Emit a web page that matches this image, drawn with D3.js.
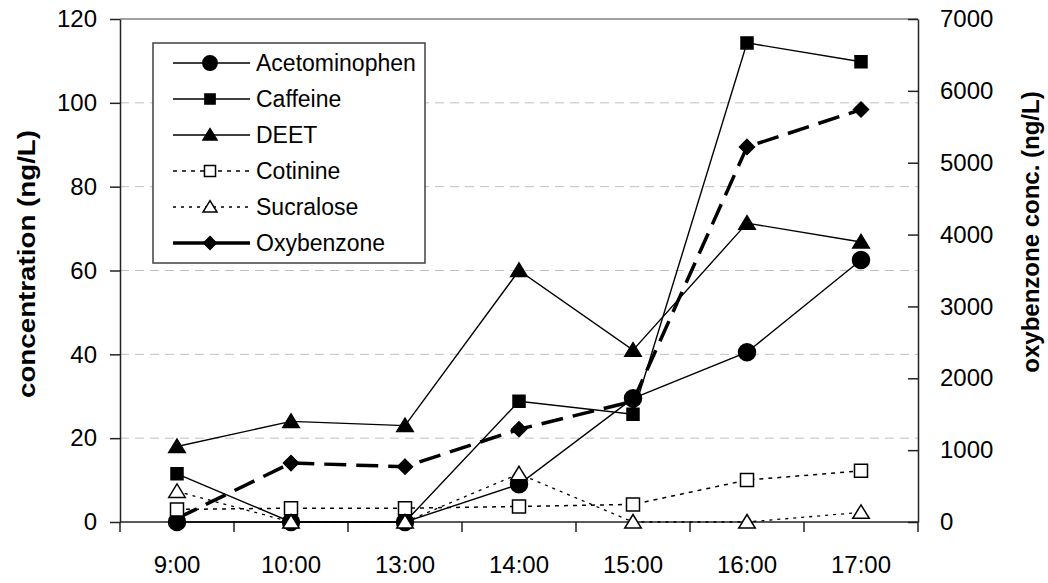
<!DOCTYPE html>
<html lang="en">
<head>
<meta charset="UTF-8">
<title>concentration by time</title>
<script src="https://d3js.org/d3.v7.min.js"></script>
<style>
    body { margin: 0; background: #fff; }
    text { font-family: "Liberation Sans", Arial, sans-serif; fill: #000; }
    .tick-label { font-size: 24px; }
    .axis-title { font-size: 24px; font-weight: bold; }
    .legend-text { font-size: 23px; }
</style>
</head>
<body>
<div id="chart"></div>
<script>
    // data
    var times = ["9:00", "10:00", "13:00", "14:00", "15:00", "16:00", "17:00"];
    var acetominophen = [0, 0, 0, 9, 29.5, 40.5, 62.5];
    var caffeine = [11.5, 0, 0, 28.8, 25.7, 114.3, 109.8];
    var deet = [18, 24, 23, 60, 41, 71.3, 66.8];
    var cotinine = [3, 3.3, 3.3, 3.7, 4.2, 10, 12.2];
    var sucralose = [7.3, 0, 0, 11.5, 0, 0, 2.3];
    var oxybenzone = [50, 820, 770, 1290, 1680, 5220, 5740];   // right axis

    var leftTicks = [0, 20, 40, 60, 80, 100, 120];
    var rightTicks = [0, 1000, 2000, 3000, 4000, 5000, 6000, 7000];

    var W = 1048, H = 583;
    var plot = {left: 120, right: 918, top: 19, bottom: 522};

    var svg = d3.select("#chart").append("svg")
        .attr("width", W)
        .attr("height", H);

    var x = d3.scaleBand().domain(times).range([plot.left, plot.right]);
    var yL = d3.scaleLinear().domain([0, 120]).range([plot.bottom, plot.top]);
    var yR = d3.scaleLinear().domain([0, 7000]).range([plot.bottom, plot.top]);
    var cx = function(t) { return x(t) + x.bandwidth() / 2; };

    // marker shapes
    function shapePath(kind, s) {
        if (kind === "circle") return d3.symbol(d3.symbolCircle, Math.PI * s * s)();
        if (kind === "square") return "M" + (-s) + "," + (-s) + "h" + 2 * s + "v" + 2 * s + "h" + (-2 * s) + "Z";
        if (kind === "triangle") return "M0," + (-s) + "L" + (s * 1.1) + "," + (s * 0.8) + "L" + (-s * 1.1) + "," + (s * 0.8) + "Z";
        if (kind === "diamond") return "M0," + (-s) + "L" + s + ",0L0," + s + "L" + (-s) + ",0Z";
    }

    var series = [
        {name: "Oxybenzone", values: oxybenzone, y: yR, shape: "diamond", size: 7.5, fill: "#000", width: 3.5, dash: "22,10"},
        {name: "Acetominophen", values: acetominophen, y: yL, shape: "circle", size: 8.5, fill: "#000", width: 1.4, dash: null},
        {name: "Caffeine", values: caffeine, y: yL, shape: "square", size: 6, fill: "#000", width: 1.4, dash: null},
        {name: "DEET", values: deet, y: yL, shape: "triangle", size: 7.5, fill: "#000", width: 1.4, dash: null},
        {name: "Cotinine", values: cotinine, y: yL, shape: "square", size: 6.5, fill: "#fff", width: 1.5, dash: "4,5"},
        {name: "Sucralose", values: sucralose, y: yL, shape: "triangle", size: 7.5, fill: "#fff", width: 1.3, dash: "3,5"}
    ];

    // gridlines (left axis values)
    svg.append("g").selectAll("line")
        .data(leftTicks.filter(function(d) { return d > 0 && d < 120; }))
        .enter().append("line")
        .attr("x1", plot.left).attr("x2", plot.right)
        .attr("y1", function(d) { return yL(d); })
        .attr("y2", function(d) { return yL(d); })
        .style("stroke", "#c0c0c0")
        .style("stroke-width", 1)
        .style("stroke-dasharray", "9,6");

    // top border
    svg.append("line")
        .attr("x1", plot.left).attr("x2", plot.right)
        .attr("y1", plot.top).attr("y2", plot.top)
        .style("stroke", "#808080").style("stroke-width", 1.5);

    // left axis
    var leftAxis = svg.append("g")
        .attr("transform", "translate(" + plot.left + ",0)")
        .call(d3.axisLeft(yL).tickValues(leftTicks).tickSize(10).tickSizeOuter(0).tickPadding(13));
    leftAxis.select(".domain").style("stroke", "#222").style("stroke-width", 1.5);
    leftAxis.selectAll(".tick line").style("stroke", "#222").style("stroke-width", 1.5);
    leftAxis.selectAll("text").attr("class", "tick-label").style("font-size", "24px").style("font-family", null);

    // right axis (ticks point inward)
    var rightAxis = svg.append("g")
        .attr("transform", "translate(" + plot.right + ",0)")
        .call(d3.axisRight(yR).tickValues(rightTicks).tickFormat(d3.format("d"))
            .tickSize(-10).tickSizeOuter(0).tickPadding(22));
    rightAxis.select(".domain").style("stroke", "#222").style("stroke-width", 1.5);
    rightAxis.selectAll(".tick line").style("stroke", "#222").style("stroke-width", 1.5);
    rightAxis.selectAll("text").attr("class", "tick-label").style("font-size", "24px").style("font-family", null);

    // bottom axis: ticks between categories
    svg.append("line")
        .attr("x1", plot.left).attr("x2", plot.right)
        .attr("y1", plot.bottom).attr("y2", plot.bottom)
        .style("stroke", "#222").style("stroke-width", 1.5);
    var bounds = times.map(function(t) { return x(t); }).concat([plot.right]);
    svg.append("g").selectAll("line")
        .data(bounds)
        .enter().append("line")
        .attr("x1", function(d) { return d; }).attr("x2", function(d) { return d; })
        .attr("y1", plot.bottom).attr("y2", plot.bottom + 10)
        .style("stroke", "#222").style("stroke-width", 1.5);
    svg.append("g").selectAll("text")
        .data(times)
        .enter().append("text")
        .attr("class", "tick-label")
        .attr("x", cx)
        .attr("y", 573)
        .attr("text-anchor", "middle")
        .text(function(d) { return d; });

    // axis titles
    svg.append("text")
        .attr("class", "axis-title")
        .attr("transform", "translate(35,264) rotate(-90)")
        .attr("text-anchor", "middle")
        .attr("textLength", 268)
        .attr("lengthAdjust", "spacingAndGlyphs")
        .text("concentration (ng/L)");

    svg.append("text")
        .attr("class", "axis-title")
        .attr("transform", "translate(1039,232) rotate(-90)")
        .attr("text-anchor", "middle")
        .text("oxybenzone conc. (ng/L)");

    // lines
    series.forEach(function(s) {
        var line = d3.line()
            .x(function(d, i) { return cx(times[i]); })
            .y(function(d) { return s.y(d); });
        svg.append("path")
            .datum(s.values)
            .attr("d", line)
            .style("fill", "none")
            .style("stroke", "#000")
            .style("stroke-width", s.width)
            .style("stroke-dasharray", s.dash);
    });

    // markers
    series.forEach(function(s) {
        svg.append("g").selectAll("path")
            .data(s.values)
            .enter().append("path")
            .attr("transform", function(d, i) { return "translate(" + cx(times[i]) + "," + s.y(d) + ")"; })
            .attr("d", shapePath(s.shape, s.size))
            .style("fill", s.fill)
            .style("stroke", "#000")
            .style("stroke-width", 1.5);
    });

    // legend
    var legendOrder = ["Acetominophen", "Caffeine", "DEET", "Cotinine", "Sucralose", "Oxybenzone"];
    var legend = svg.append("g");
    legend.append("rect")
        .attr("x", 153).attr("y", 43)
        .attr("width", 272).attr("height", 220)
        .style("fill", "#fff")
        .style("stroke", "#404040")
        .style("stroke-width", 1.5);

    legendOrder.forEach(function(name, i) {
        var s = series.filter(function(d) { return d.name === name; })[0];
        var ly = 63 + i * 36;
        legend.append("line")
            .attr("x1", 173).attr("x2", 250)
            .attr("y1", ly).attr("y2", ly)
            .style("stroke", "#000")
            .style("stroke-width", s.name === "Oxybenzone" ? 3.5 : s.width)
            .style("stroke-dasharray", s.name === "Oxybenzone" ? null : s.dash);
        legend.append("path")
            .attr("transform", "translate(210," + ly + ")")
            .attr("d", shapePath(s.shape, s.size * 0.85))
            .style("fill", s.fill)
            .style("stroke", "#000")
            .style("stroke-width", 1.5);
        legend.append("text")
            .attr("class", "legend-text")
            .attr("x", 256)
            .attr("y", ly)
            .attr("dy", "0.35em")
            .text(name);
    });
</script>
</body>
</html>
